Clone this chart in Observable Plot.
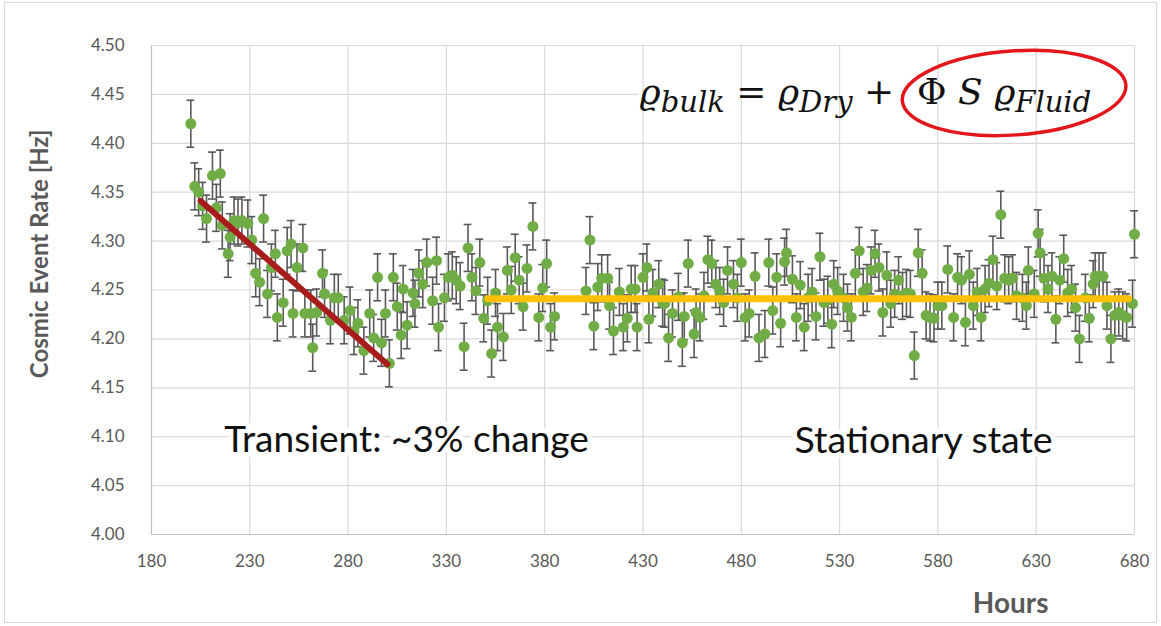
<!DOCTYPE html>
<html><head><meta charset="utf-8">
<script src="https://cdn.jsdelivr.net/npm/d3@7"></script>
<script src="https://cdn.jsdelivr.net/npm/@observablehq/plot@0.6"></script>
<style>body{margin:0;background:#fff}</style>
</head><body><div id="chart"></div>
<script>
// ---- data ----
const hours = [
200,202,204,206,208,211,213,215,216,219,220,222,224,226,229,231,233,235,237,239,
241,243,244,247,249,251,252,254,257,258,261,262,264,267,268,271,273,275,278,281,
283,285,288,291,293,295,297,299,301,303,305,307,308,310,313,314,316,318,320,323,
325,326,329,331,333,335,337,339,341,343,345,347,349,351,353,355,356,359,361,363,
365,367,369,371,374,377,379,381,383,385,
401,403,405,407,409,412,413,415,418,420,422,424,426,427,430,432,433,435,438,440,
441,443,445,448,450,451,453,456,457,459,461,463,465,467,469,471,473,476,478,480,
482,484,487,489,492,494,496,498,500,502,503,506,508,510,512,514,516,518,520,522,
524,526,527,529,532,534,536,538,540,542,544,546,548,550,552,554,556,558,560,562,
564,566,568,570,572,574,576,578,580,582,585,588,590,592,594,596,598,600,602,604,
606,608,610,612,614,616,618,620,623,625,626,629,631,632,634,636,638,640,642,644,
646,648,650,652,655,657,659,660,662,664,666,668,670,672,674,676,679,680];
const rates = [
4.420,4.356,4.350,4.336,4.323,4.367,4.334,4.369,4.316,4.287,
4.304,4.321,4.319,4.321,4.318,4.301,4.267,4.258,4.323,4.246,
4.273,4.287,4.222,4.237,4.290,4.297,4.226,4.273,4.293,4.226,
4.226,4.191,4.227,4.267,4.246,4.219,4.242,4.242,4.219,4.229,
4.208,4.216,4.188,4.226,4.201,4.263,4.196,4.226,4.175,4.263,
4.233,4.204,4.251,4.214,4.247,4.236,4.267,4.256,4.278,4.239,
4.280,4.212,4.242,4.263,4.265,4.260,4.254,4.192,4.293,4.263,
4.249,4.278,4.221,4.239,4.185,4.247,4.212,4.202,4.270,4.250,
4.283,4.260,4.233,4.272,4.315,4.222,4.252,4.277,4.212,4.223,
4.249,4.301,4.213,4.253,4.262,4.262,4.234,4.208,4.248,4.212,
4.221,4.251,4.251,4.212,4.263,4.273,4.220,4.247,4.256,4.237,
4.236,4.201,4.226,4.243,4.196,4.223,4.277,4.205,4.227,4.222,
4.244,4.281,4.277,4.256,4.249,4.237,4.270,4.256,4.242,4.278,
4.222,4.226,4.264,4.201,4.205,4.278,4.229,4.263,4.216,4.279,
4.288,4.261,4.222,4.255,4.212,4.242,4.248,4.223,4.284,4.237,
4.240,4.215,4.256,4.249,4.242,4.232,4.222,4.267,4.290,4.248,
4.252,4.270,4.287,4.273,4.227,4.265,4.236,4.246,4.260,4.244,
4.247,4.246,4.183,4.288,4.267,4.224,4.222,4.221,4.234,4.234,
4.271,4.222,4.263,4.260,4.217,4.266,4.234,4.248,4.222,4.251,
4.257,4.281,4.254,4.327,4.262,4.260,4.262,4.244,4.242,4.234,
4.270,4.246,4.308,4.288,4.262,4.251,4.264,4.220,4.260,4.282,
4.247,4.251,4.232,4.200,4.242,4.221,4.256,4.264,4.264,4.264,
4.234,4.200,4.224,4.227,4.224,4.222,4.236,4.307];
const errorHalfWidth = 0.024;
const xTicks = [180,230,280,330,380,430,480,530,580,630,680];
const yTicks = [4.00,4.05,4.10,4.15,4.20,4.25,4.30,4.35,4.40,4.45,4.50];
const transientHours = [205, 300];
const transientRates = [4.341, 4.174];
const stationaryHours = [351, 677];
const stationaryRates = [4.241, 4.241];
const yTitle = "Cosmic Event Rate [Hz]";
const xTitle = "Hours";
const noteTransient = "Transient: ~3% change";
const noteStationary = "Stationary state";

// ---- build table ----
const n = Math.min(hours.length, rates.length);
const data = d3.range(n).map(i => ({h: hours[i], r: rates[i], lo: rates[i] - errorHalfWidth, hi: rates[i] + errorHalfWidth}));
const trendA = transientHours.map((h, i) => ({h, r: transientRates[i]}));
const trendB = stationaryHours.map((h, i) => ({h, r: stationaryRates[i]}));

// formula annotation (real text with subscripts)
function formulaMark(anchorH, anchorR) {
  return (index, scales) => {
    const g = d3.create("svg:g");
    const x = scales.x(anchorH), y = scales.y(anchorR);
    const t = g.append("text").attr("x", x).attr("y", y)
      .attr("text-anchor", "start")
      .attr("font-family", "'DejaVu Serif', 'Liberation Serif', serif")
      .attr("font-size", 36).attr("fill", "#111");
    const parts = [
      {s: "ϱ", it: true}, {s: "bulk", it: true, sub: true},
      {s: " = ", it: false}, {s: "ϱ", it: true}, {s: "Dry", it: true, sub: true},
      {s: " + ", it: false}, {s: " Φ ", it: false}, {s: "S", it: true},
      {s: " ϱ", it: true}, {s: "Fluid", it: true, sub: true}
    ];
    let shifted = false;
    for (const p of parts) {
      const ts = t.append("tspan").text(p.s).attr("font-style", p.it ? "italic" : "normal");
      if (p.sub) { ts.attr("font-size", 29); if (!shifted) { ts.attr("dy", 8); shifted = true; } }
      else if (shifted) { ts.attr("dy", -8); shifted = false; }
    }
    return g.node();
  };
}
function ellipseMark(ch, cr, rh, rr, angle) {
  return (index, scales) => {
    const cx = scales.x(ch), cy = scales.y(cr);
    const rx = Math.abs(scales.x(ch + rh) - cx), ry = Math.abs(scales.y(cr + rr) - cy);
    const g = d3.create("svg:g");
    g.append("ellipse").attr("cx", cx).attr("cy", cy).attr("rx", rx).attr("ry", ry)
      .attr("transform", `rotate(${angle},${cx},${cy})`)
      .attr("fill", "none").attr("stroke", "#e3161b").attr("stroke-width", 3.5);
    return g.node();
  };
}
function borderMark() {
  return (index, scales, values, dims) => {
    const g = d3.create("svg:g");
    g.append("rect").attr("x", 4.5).attr("y", 2.5).attr("width", dims.width - 9).attr("height", dims.height - 6)
      .attr("fill", "none").attr("stroke", "#d9d9d9");
    return g.node();
  };
}

const chart = Plot.plot({
  width: 1161, height: 626,
  marginLeft: 151, marginRight: 27, marginTop: 45, marginBottom: 92,
  x: {domain: [180, 680]},
  y: {domain: [4.0, 4.5]},
  style: {fontFamily: "Lato, 'Open Sans', sans-serif", color: "#595959", background: "#fff", overflow: "visible"},
  marks: [
    borderMark(),
    Plot.ruleY(yTicks.filter(v => v > 4.0 && v !== 4.45), {stroke: "#d9d9d9", strokeWidth: 1.2}),
    Plot.ruleY([4.45], {x1: 180, x2: 428, stroke: "#d9d9d9", strokeWidth: 1.2}),
    Plot.ruleX(xTicks.filter(v => v > 180), {y1: 4.0, y2: 4.5, stroke: "#d9d9d9", strokeWidth: 1.2}),
    Plot.ruleX([180], {y1: 4.0, y2: 4.5, stroke: "#bfbfbf", strokeWidth: 1.2}),
    Plot.ruleY([4.0], {stroke: "#bfbfbf", strokeWidth: 1.2}),
    Plot.axisX({ticks: xTicks, tickSize: 0, tickPadding: 20, fontSize: 17, tickFormat: d => String(d), label: null}),
    Plot.axisY({ticks: yTicks, tickSize: 0, tickPadding: 27, fontSize: 17, tickFormat: d => d.toFixed(2), label: null}),
    Plot.text([yTitle], {x: 180, y: 4.287, dx: -111, rotate: -90, fontSize: 24, fontWeight: "bold", fill: "#595959"}),
    Plot.text([xTitle], {x: 617, y: 4.0, dy: 70, fontSize: 28, fontWeight: "bold", fill: "#595959"}),
    Plot.ruleX(data, {x: "h", y1: "lo", y2: "hi", stroke: "#595959", strokeWidth: 1.6}),
    Plot.ruleY(data, {y: "lo", x1: d => d.h - 2, x2: d => d.h + 2, stroke: "#595959", strokeWidth: 1.6}),
    Plot.ruleY(data, {y: "hi", x1: d => d.h - 2, x2: d => d.h + 2, stroke: "#595959", strokeWidth: 1.6}),
    Plot.dot(data, {x: "h", y: "r", r: 5.5, fill: "#70ad47"}),
    Plot.line(trendA, {x: "h", y: "r", stroke: "#a81c1c", strokeWidth: 6}),
    Plot.line(trendB, {x: "h", y: "r", stroke: "#ffc000", strokeWidth: 7}),
    Plot.text([noteTransient], {x: 309.7, y: 4.096, fontSize: 37, fill: "#111", stroke: "white", strokeWidth: 10}),
    Plot.text([noteStationary], {x: 572.7, y: 4.096, fontSize: 37.5, fill: "#111", stroke: "white", strokeWidth: 10}),
    formulaMark(428.5, 4.44),
    ellipseMark(619, 4.451, 57, 0.043, -4)
  ]
});
document.getElementById("chart").append(chart);
</script>
</body></html>
